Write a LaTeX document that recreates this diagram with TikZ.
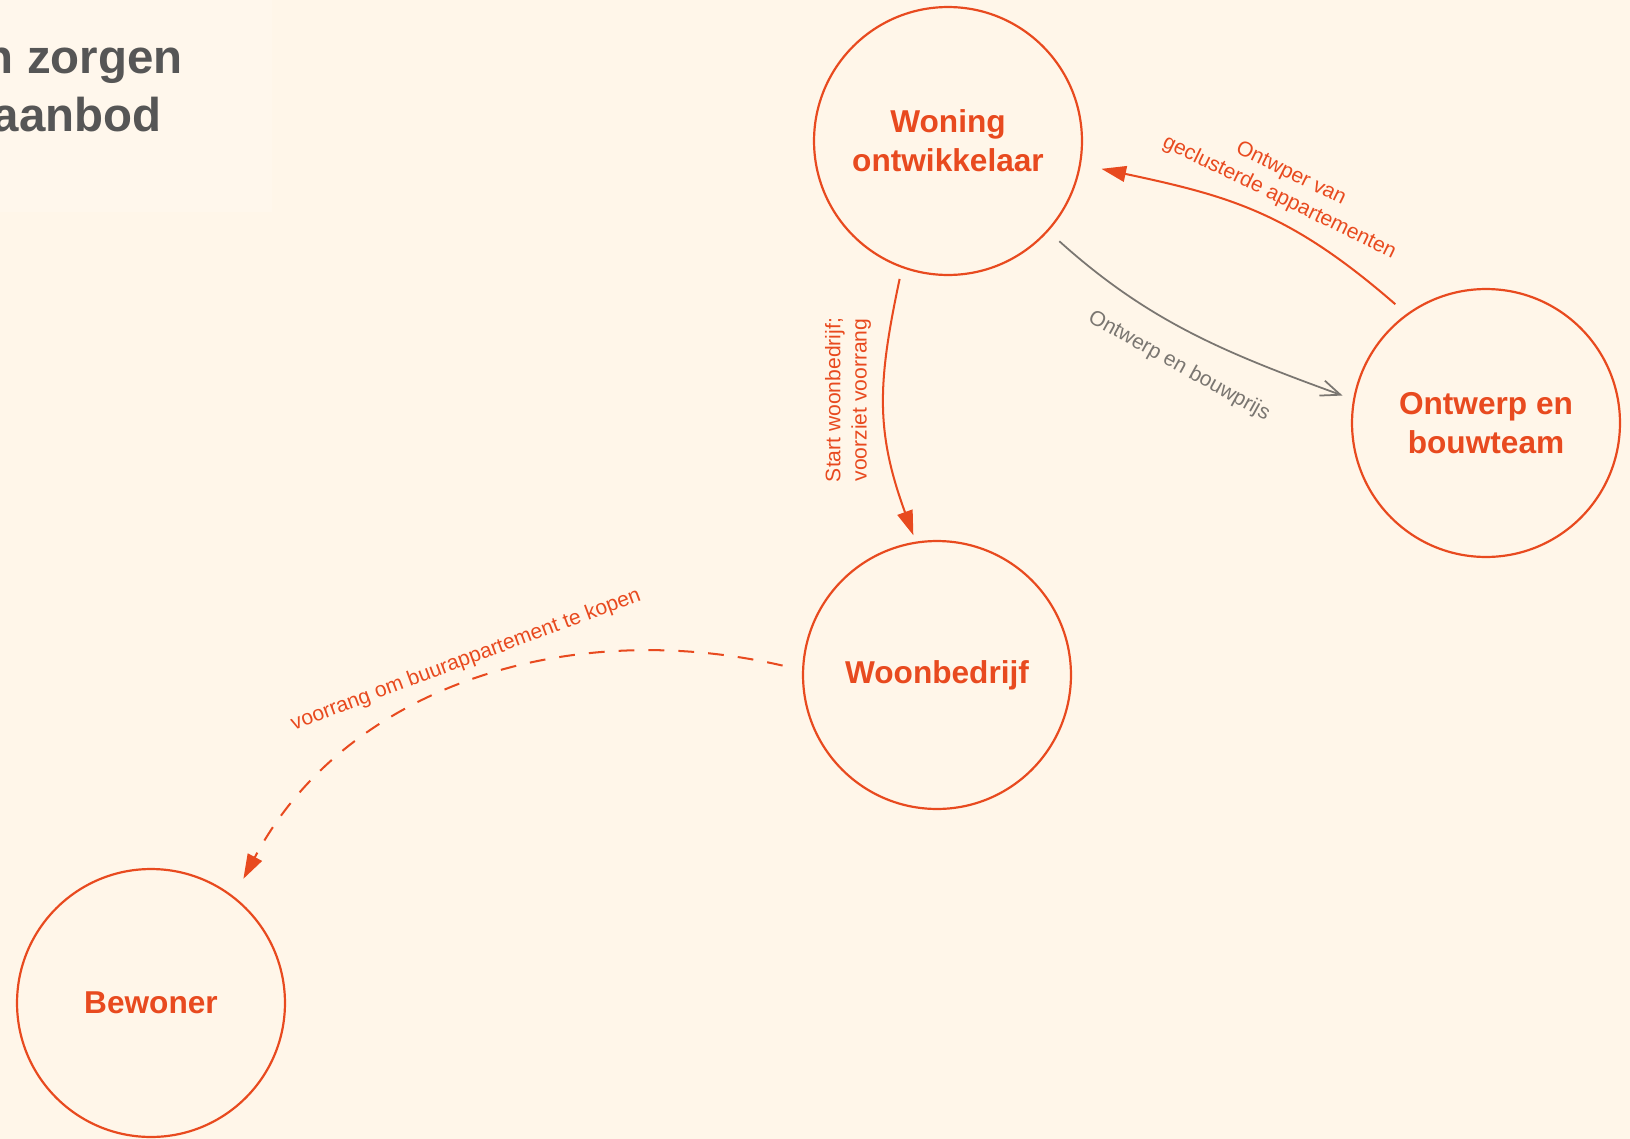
\documentclass[tikz,border=0pt]{standalone}
\usepackage{fontspec}
\setmainfont{Liberation Sans}
\usetikzlibrary{arrows.meta}
\definecolor{paper}{HTML}{FFF6E9}
\definecolor{brick}{HTML}{E84A1F}
\definecolor{slate}{HTML}{7A7671}
\definecolor{ink}{HTML}{565656}
\newcommand*\actordiam{5.36cm}
\tikzset{
    actor/.style    = {draw=brick, circle, line width=1.25pt,
                      minimum size=\actordiam, inner sep=0pt, outer sep=0pt,
                      text=brick, align=center,
                      font=\bfseries\fontsize{18}{22}\selectfont},
    flow/.style     = {draw=brick, line width=1.15pt,
                      -{Triangle[length=14pt,width=9pt]}},
    dashflow/.style = {flow, dash pattern=on 9pt off 8pt},
    quote/.style    = {draw=slate, line width=1pt,
                      -{Straight Barb[length=11pt,width=9pt]}},
    note/.style     = {text=brick, align=center, inner sep=0pt,
                      font=\fontsize{12}{15}\selectfont},
    greynote/.style = {note, text=slate},
    heading/.style  = {text=ink, inner sep=0pt,
                      font=\bfseries\fontsize{27}{33}\selectfont},
  }

\begin{document}
\begin{tikzpicture}[x=0.02cm, y=-0.02cm]
    % paper and page size
    \fill[paper] (0,0) rectangle (1630,1139);
    \fill[paper!88!white] (0,0) rectangle (272,212);
    \useasboundingbox (0,0) rectangle (1630,1139);

    % heading, cut off at the left edge
    \node[heading, anchor=base east] (title1) at (183,73) {n zorgen};
    \node[heading, anchor=base east] (title2) at (162,131) {aanbod};

    % the four parties
    \node[actor] (woning)      at (948,141)  {Woning\\ontwikkelaar};
    \node[actor] (ontwerp)     at (1486,423) {Ontwerp en\\bouwteam};
    \node[actor] (woonbedrijf) at (937,675)  {Woonbedrijf};
    \node[actor] (bewoner)     at (151,1003) {Bewoner};

    % relations between them
    \draw[flow, shorten <=7pt, shorten >=4.5pt]
        (woning.250) to[out=258, in=110, looseness=1.1] (woonbedrijf.99);
    \draw[flow, shorten <=9pt, shorten >=12.5pt]
        (ontwerp.126) to[out=139, in=348, looseness=1.1] (woning.350);
    \draw[quote, shorten <=9pt, shorten >=7pt]
        (woning.318) to[out=318, in=160] (ontwerp.170);
    \draw[dashflow, shorten <=12pt, shorten >=12pt]
        (woonbedrijf.178) to[out=167, in=62] (bewoner.52);

    % labels along the arrows
    \node[note, rotate=90]     (startnote)    at (848,400)  {Start woonbedrijf;\\voorziet voorrang};
    \node[note, rotate=-26]    (ontwpernote)  at (1285,186) {Ontwper van\\geclusterde appartementen};
    \node[greynote, rotate=-29] (prijsnote)   at (1179,366) {Ontwerp en bouwprijs};
    \node[note, rotate=20.5]   (voorrangnote) at (466,660)  {voorrang om buurappartement te kopen};
\end{tikzpicture}
\end{document}
